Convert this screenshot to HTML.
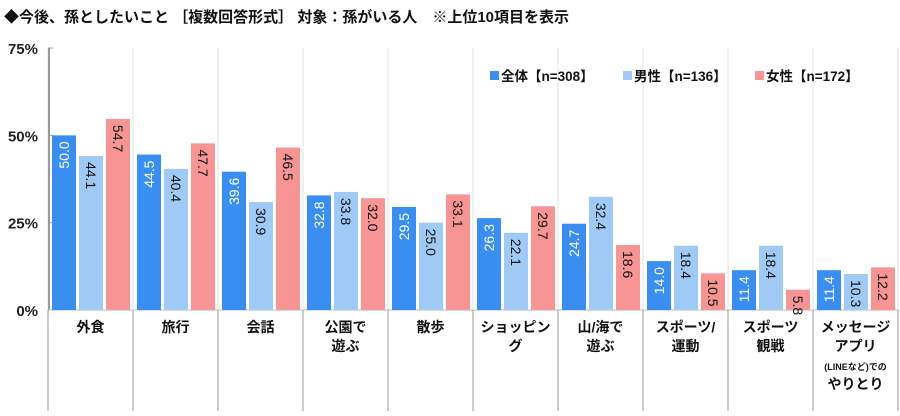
<!DOCTYPE html>
<html><head><meta charset="utf-8"><style>
body{margin:0;background:#fff;font-family:"Liberation Sans","Noto Sans CJK JP",sans-serif}
</style></head><body>
<svg id="c" width="900" height="411" xmlns="http://www.w3.org/2000/svg" style="font-family:'Liberation Sans','Noto Sans CJK JP',sans-serif">
<text x="4" y="22" font-size="15" font-weight="bold" fill="#111">◆今後、孫としたいこと ［複数回答形式］ 対象：孫がいる人　※上位10項目を表示</text>
</svg>
<script>
const categories=[["外食"],["旅行"],["会話"],["公園で","遊ぶ"],["散歩"],["ショッピン","グ"],["山/海で","遊ぶ"],["スポーツ/","運動"],["スポーツ","観戦"],["メッセージ","アプリ","(LINEなど)での","やりとり"]];
const seriesNames=["全体【n=308】","男性【n=136】","女性【n=172】"];
const totalVals=[50.0,44.5,39.6,32.8,29.5,26.3,24.7,14.0,11.4,11.4];
const maleVals=[44.1,40.4,30.9,33.8,25.0,22.1,32.4,18.4,18.4,10.3];
const femaleVals=[54.7,47.7,46.5,32.0,33.1,29.7,18.6,10.5,5.8,12.2];
const yTicks=[0,25,50,75];
const svg=document.getElementById('c');const NS='http://www.w3.org/2000/svg';
function mk(t,a,txt){const e=document.createElementNS(NS,t);for(const k in a)e.setAttribute(k,a[k]);if(txt!=null)e.textContent=txt;svg.appendChild(e);return e;}
const x0=48,step=85,yTop=48,yBot=310;
const y=v=>yBot-(v/75)*(yBot-yTop);
const colors=["#3a8ef0","#9fcaf6","#f79494"];
const series=[totalVals,maleVals,femaleVals];
for(let i=0;i<=10;i++){const l=mk('line',{x1:x0+i*step,x2:x0+i*step,y1:yTop,y2:yBot,stroke:'#e2e2e2'});

}
yTicks.forEach(t=>{const e=mk('text',{x:38,y:y(t)+6,'font-size':15,'font-weight':'bold','text-anchor':'end',fill:'#222'},t+'%');


const tk=mk('line',{x1:x0,x2:x0+5,y1:y(t),y2:y(t),stroke:'#999'});

});
const ax=mk('line',{x1:x0+1,x2:x0+1,y1:yTop,y2:yBot,stroke:'#999','stroke-width':2});


const bx=mk('line',{x1:x0,x2:898,y1:yBot,y2:yBot,stroke:'#bbb'});


categories.forEach((c,i)=>{
 series.forEach((s,j)=>{
  const bxp=x0+i*step+4+j*27,w=24,v=s[i];
  const r=mk('rect',{x:bxp,y:y(v),width:w,height:yBot-y(v),fill:colors[j]});
  
  
  const cx=bxp+w/2,ty=y(v)+6;
  let t;
  if(j===0){t=mk('text',{x:0,y:0,transform:`translate(${cx+5},${ty}) rotate(-90)`,'text-anchor':'end','font-size':14,fill:'#fff'},v.toFixed(1));}
  else{t=mk('text',{x:0,y:0,transform:`translate(${cx-5},${ty}) rotate(90)`,'text-anchor':'start','font-size':14,fill:'#111'},v.toFixed(1));}
  
  
 });
 const sep=mk('line',{x1:x0+(i+1)*step,x2:x0+(i+1)*step,y1:yBot,y2:411,stroke:'#999'});
 
 
 c.forEach((ln,k)=>{const small=ln.startsWith('(');
  const t=mk('text',{x:x0+i*step+step/2,y:332+k*19,'text-anchor':'middle','font-size':small?9:14,'font-weight':'bold',fill:'#111'},ln);
  
  });
});
const s0=mk('line',{x1:x0,x2:x0,y1:yBot,y2:411,stroke:'#999'});


const lx=[490,623,755];
seriesNames.forEach((n,j)=>{
 const r=mk('rect',{x:lx[j],y:71,width:9,height:9,fill:colors[j]});
 
 
 const t=mk('text',{x:lx[j]+11,y:81,'font-size':13.5,'font-weight':'bold',fill:'#111'},n);
 
 
});
</script>
</body></html>
